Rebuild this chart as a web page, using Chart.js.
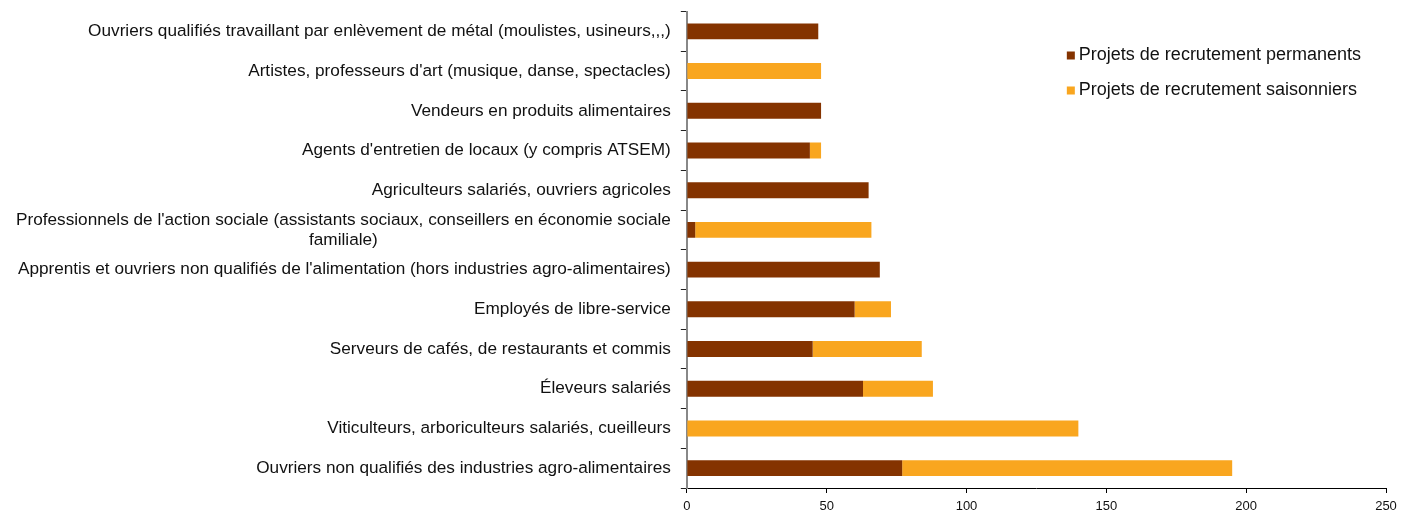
<!DOCTYPE html>
<html lang="fr">
<head>
  <meta charset="UTF-8" />
  <title>Projets de recrutement</title>
  <style>
    * { margin: 0; padding: 0; }
    body { background: #fff; }
    .chartBox { width: 1401px; height: 510px; }
  </style>
</head>
<body>
  <div class="chartBox">
    <canvas id="myChart"></canvas>
  </div>
  <script src="https://cdn.jsdelivr.net/npm/chart.js@4.4.1/dist/chart.umd.min.js"></script>
  <script>
    const labels = [
      "Ouvriers qualifiés travaillant par enlèvement de métal (moulistes, usineurs,,,)",
      "Artistes, professeurs d'art (musique, danse, spectacles)",
      "Vendeurs en produits alimentaires",
      "Agents d'entretien de locaux (y compris ATSEM)",
      "Agriculteurs salariés, ouvriers agricoles",
      ["Professionnels de l'action sociale (assistants sociaux, conseillers en économie sociale", "familiale)"],
      "Apprentis et ouvriers non qualifiés de l'alimentation (hors industries agro-alimentaires)",
      "Employés de libre-service",
      "Serveurs de cafés, de restaurants et commis",
      "Éleveurs salariés",
      "Viticulteurs, arboriculteurs salariés, cueilleurs",
      "Ouvriers non qualifiés des industries agro-alimentaires"
    ];
    const permanents = [47, 0, 48, 44, 65, 3, 69, 60, 45, 63, 0, 77];
    const saisonniers = [0, 48, 0, 4, 0, 63, 0, 13, 39, 25, 140, 118];
    const xTicks = [0, 50, 100, 150, 200, 250];

    const fontFamily = "'Liberation Sans', Arial, Helvetica, sans-serif";
    const labelSize = 17.2;

    // draws the category labels (multi-line ones centred on their block, like Excel)
    const yLabelsPlugin = {
      id: "yLabels",
      afterDraw(chart) {
        const ctx = chart.ctx;
        const sc = chart.scales.y;
        const right = sc.right - 6 - 10;
        ctx.save();
        ctx.font = labelSize + "px " + fontFamily;
        ctx.fillStyle = "#111";
        ctx.textBaseline = "middle";
        ctx.textAlign = "center";
        chart.data.labels.forEach((lab, i) => {
          const lines = Array.isArray(lab) ? lab : [lab];
          const w = Math.max(...lines.map(l => ctx.measureText(l).width));
          const cy = sc.getPixelForValue(i);
          lines.forEach((l, j) => {
            ctx.fillText(l, right - w / 2, cy + (j - (lines.length - 1) / 2) * 20);
          });
        });
        ctx.restore();
      }
    };

    // legend inside the plot, top right
    const legendPlugin = {
      id: "innerLegend",
      afterDraw(chart) {
        const ctx = chart.ctx;
        const x = chart.chartArea.left + 380;
        let y = chart.chartArea.top + 44;
        ctx.save();
        ctx.font = "18px " + fontFamily;
        ctx.textBaseline = "middle";
        ctx.textAlign = "left";
        chart.data.datasets.forEach(ds => {
          ctx.fillStyle = ds.backgroundColor;
          ctx.fillRect(x, y - 4, 8, 8);
          ctx.fillStyle = "#111";
          ctx.fillText(ds.label, x + 12, y);
          y += 35;
        });
        ctx.restore();
      }
    };

    const data = {
      labels: labels,
      datasets: [
        {
          label: "Projets de recrutement permanents",
          data: permanents,
          backgroundColor: "#843300",
          borderWidth: 0,
          barPercentage: 0.8,
          categoryPercentage: 0.5
        },
        {
          label: "Projets de recrutement saisonniers",
          data: saisonniers,
          backgroundColor: "#F9A61F",
          borderWidth: 0,
          barPercentage: 0.8,
          categoryPercentage: 0.5
        }
      ]
    };

    const options = {
      responsive: true,
      maintainAspectRatio: false,
      animation: false,
      indexAxis: "y",
      layout: {
        padding: { top: 11.5, right: 15, bottom: 0, left: 6 }
      },
      scales: {
        x: {
          stacked: true,
          min: 0,
          max: 250,
          afterBuildTicks(scale) {
            scale.ticks = xTicks.map(v => ({ value: v }));
          },
          afterFit(scale) {
            scale.height = 22;
            scale.paddingLeft = 0;
            scale.paddingRight = 0;
          },
          grid: {
            drawOnChartArea: false,
            tickLength: 5,
            color: "#000"
          },
          border: { color: "#000" },
          ticks: {
            color: "#111",
            padding: 6,
            font: { family: fontFamily, size: 13 }
          }
        },
        y: {
          stacked: true,
          afterFit(scale) {
            scale.paddingTop = 0;
            scale.paddingBottom = 0;
          },
          grid: {
            offset: true,
            drawOnChartArea: false,
            tickLength: 6,
            color: "#222"
          },
          border: { color: "#888", width: 2 },
          ticks: {
            autoSkip: false,
            color: "rgba(0,0,0,0)",
            padding: 10,
            font: { family: fontFamily, size: labelSize, lineHeight: 1.15 }
          }
        }
      },
      plugins: {
        legend: { display: false },
        tooltip: { enabled: false }
      }
    };

    const ctx = document.getElementById("myChart").getContext("2d");
    const myChart = new Chart(ctx, {
      type: "bar",
      data: data,
      options: options,
      plugins: [yLabelsPlugin, legendPlugin]
    });
  </script>
</body>
</html>
